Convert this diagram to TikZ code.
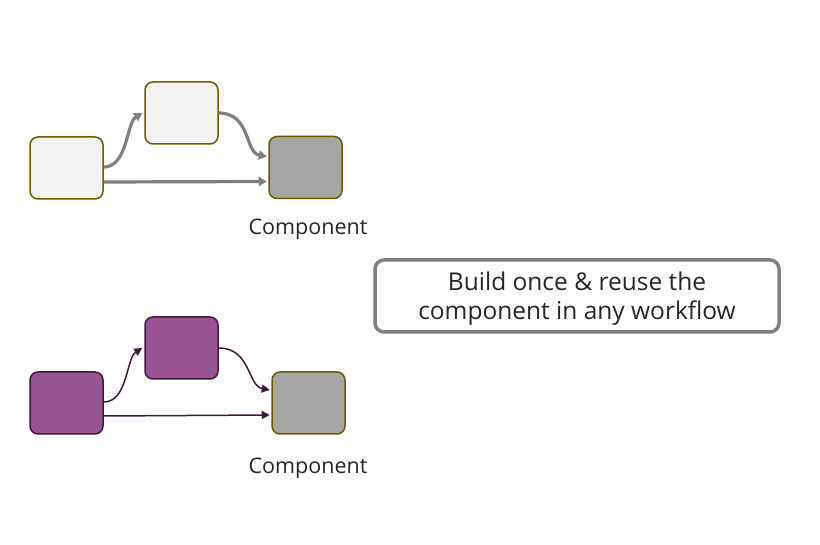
\documentclass[tikz,border=0pt]{standalone}
\usepackage{fontspec}
\setmainfont{Open Sans}
\usetikzlibrary{arrows.meta}
\definecolor{olive}{HTML}{6B5A00}
\definecolor{lightbox}{HTML}{F2F2F2}
\definecolor{graybox}{HTML}{A6A6A6}
\definecolor{purp}{HTML}{985592}
\definecolor{dpurp}{HTML}{3D1A3A}
\definecolor{garrow}{HTML}{808080}
\definecolor{txt}{HTML}{262626}
\begin{document}
\begin{tikzpicture}[x=1pt,y=-1pt,
  blk/.style={rectangle, rounded corners=8pt, minimum width=73pt, minimum height=62pt, line width=1.5pt, inner sep=0pt},
  lightblk/.style={blk, draw=olive, fill=lightbox},
  compblk/.style={blk, draw=olive, fill=graybox},
  purpblk/.style={blk, draw=dpurp, fill=purp},
  garr/.style={draw=garrow, line width=3.2pt, -{Triangle[length=8pt,width=9pt]}},
  parr/.style={draw=dpurp, line width=1.5pt, -{Triangle[length=8pt,width=8pt]}},
  lbl/.style={font=\fontsize{21.5}{26}\selectfont, text=txt}
]
\useasboundingbox (0,0) rectangle (820,545);
% top
\node[lightblk] (a1) at (66.5,168) {};
\node[lightblk] (b1) at (181.5,113) {};
\node[compblk] (c1) at (305.5,167.5) {};
\node[lbl] (l1) at (308,229) {Component};
\coordinate (a1s) at ([yshift=1pt]a1.east);
\coordinate (a1t) at ([yshift=-14pt]a1.east);
\coordinate (c1u) at ([xshift=-1.5pt,yshift=11pt]c1.west);
\coordinate (c1m) at ([xshift=-1.5pt,yshift=-14pt]c1.west);
\draw[garr] (a1s) .. controls +(24,0) and +(-16,10) .. ([xshift=-2pt]b1.west);
\draw[garr] (b1.east) .. controls +(32,0) and +(-22,-4) .. (c1u);
\draw[garr] (a1t) -- (c1m);
% bottom
\node[purpblk] (a2) at (66.5,403) {};
\node[purpblk] (b2) at (181.5,348) {};
\node[compblk] (c2) at (308.5,403) {};
\node[lbl] (l2) at (308,468) {Component};
\coordinate (a2s) at ([yshift=1pt]a2.east);
\coordinate (a2t) at ([yshift=-13pt]a2.east);
\coordinate (c2u) at ([xshift=-1.5pt,yshift=13pt]c2.west);
\coordinate (c2m) at ([xshift=-1.5pt,yshift=-12pt]c2.west);
\draw[parr] (a2s) .. controls +(24,0) and +(-16,10) .. ([xshift=-2pt]b2.west);
\draw[parr] (b2.east) .. controls +(32,0) and +(-22,-4) .. (c2u);
\draw[parr] (a2t) -- (c2m);
% text box
\node[rectangle, rounded corners=9pt, draw=garrow, line width=3.5pt, minimum width=404pt, minimum height=72pt] (msg) at (577,296) {};
\node[align=center, font=\fontsize{24.5}{29}\selectfont, text=txt] (msgtext) at (577,299) {Build once \& reuse the\\component in any workflow};
\end{tikzpicture}
\end{document}
